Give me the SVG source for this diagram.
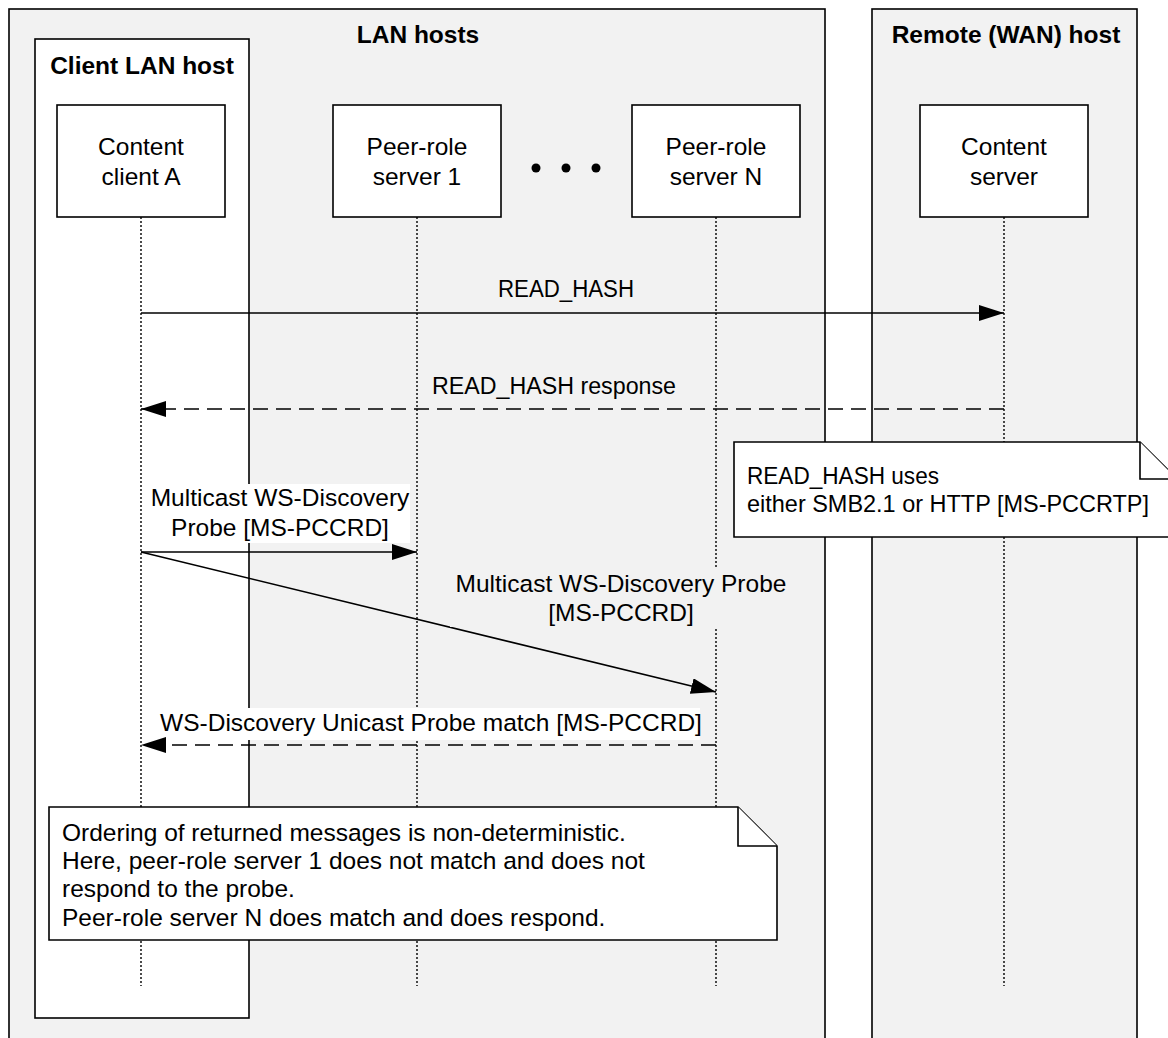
<svg xmlns="http://www.w3.org/2000/svg" width="1168" height="1038" viewBox="0 0 1168 1038">
<style>
text{font-family:"Liberation Sans",Arial,sans-serif;font-size:24.5px;fill:#000}
.t{font-weight:bold}
.c{text-anchor:middle}
.host{fill:#f2f2f2;stroke:#000;stroke-width:1.6}
.hostw{fill:#fff;stroke:#000;stroke-width:1.6}
.box{fill:#fff;stroke:#000;stroke-width:1.6}
.life{stroke:#000;stroke-width:1.4;stroke-dasharray:2,2;fill:none}
.msg{stroke:#000;stroke-width:1.6;fill:none}
.dash{stroke-dasharray:15,8}
.note{fill:#fff;stroke:#000;stroke-width:1.6;stroke-linejoin:miter}
</style>
<defs>
<marker id="ah" markerUnits="userSpaceOnUse" markerWidth="26" markerHeight="18" refX="25" refY="8" orient="auto">
<path d="M0,0 L25,8 L0,16 z" fill="#000"/>
</marker>
</defs>

<g id="lan-hosts">
<rect class="host" x="9" y="9" width="816" height="1040"/>
<text class="t c" x="418" y="43">LAN hosts</text>
</g>
<g id="remote-host">
<rect class="host" x="872" y="9" width="265" height="1040"/>
<text class="t c" x="1006" y="43">Remote (WAN) host</text>
</g>
<g id="client-lan-host">
<rect class="hostw" x="35" y="39" width="214" height="979"/>
<text class="t c" x="142" y="74">Client LAN host</text>
</g>

<g id="content-client-a">
<line class="life" x1="141" y1="217" x2="141" y2="986"/>
<rect class="box" x="57" y="105" width="168" height="112"/>
<text class="c" x="141" y="155">Content<tspan x="141" dy="30">client A</tspan></text>
</g>
<g id="peer-server-1">
<line class="life" x1="417" y1="217" x2="417" y2="986"/>
<rect class="box" x="333" y="105" width="168" height="112"/>
<text class="c" x="417" y="155">Peer-role<tspan x="417" dy="30">server 1</tspan></text>
</g>
<g id="ellipsis">
<circle cx="536" cy="168" r="4.5"/>
<circle cx="566" cy="168" r="4.5"/>
<circle cx="596" cy="168" r="4.5"/>
</g>
<g id="peer-server-n">
<line class="life" x1="716" y1="217" x2="716" y2="986"/>
<rect class="box" x="632" y="105" width="168" height="112"/>
<text class="c" x="716" y="155">Peer-role<tspan x="716" dy="30">server N</tspan></text>
</g>
<g id="content-server">
<line class="life" x1="1004" y1="217" x2="1004" y2="986"/>
<rect class="box" x="920" y="105" width="168" height="112"/>
<text class="c" x="1004" y="155">Content<tspan x="1004" dy="30">server</tspan></text>
</g>

<g id="connectors">
<line class="msg" x1="141" y1="313" x2="1004" y2="313" marker-end="url(#ah)"/>
<text class="c" x="566" y="297" textLength="136" lengthAdjust="spacingAndGlyphs">READ_HASH</text>

<line class="msg dash" x1="1004" y1="409" x2="141" y2="409" marker-end="url(#ah)"/>
<text class="c" x="554" y="394" textLength="244" lengthAdjust="spacingAndGlyphs">READ_HASH response</text>

<rect x="146" y="484" width="264" height="59" fill="#fff"/>
<line class="msg" x1="141" y1="552" x2="417" y2="552" marker-end="url(#ah)"/>
<text class="c" x="280" y="506">Multicast WS-Discovery<tspan x="280" dy="30">Probe [MS-PCCRD]</tspan></text>

<line class="msg" x1="141" y1="552" x2="716" y2="692" marker-end="url(#ah)"/>
<rect x="450" y="567" width="340" height="60" fill="#f2f2f2"/>
<text class="c" x="621" y="592">Multicast WS-Discovery Probe<tspan x="621" dy="29">[MS-PCCRD]</tspan></text>

<rect x="160" y="708" width="540" height="32" fill="#fff"/>
<line class="msg dash" x1="716" y1="745" x2="141" y2="745" marker-end="url(#ah)"/>
<text class="c" x="431" y="731">WS-Discovery Unicast Probe match [MS-PCCRD]</text>
</g>

<g id="note-read-hash">
<path class="note" d="M734,442 H1140 L1177,479 V537 H734 Z"/>
<path class="note" d="M1140,442 V479 H1177"/>
<text x="747" y="484"><tspan textLength="192" lengthAdjust="spacingAndGlyphs">READ_HASH uses</tspan><tspan x="747" dy="28" textLength="402" lengthAdjust="spacingAndGlyphs">either SMB2.1 or HTTP [MS-PCCRTP]</tspan></text>
</g>
<g id="note-ordering">
<path class="note" d="M49,807 H738 L777,846 V940 H49 Z"/>
<path class="note" d="M738,807 V846 H777"/>
<text x="62" y="841">Ordering of returned messages is non-deterministic.<tspan x="62" dy="28">Here, peer-role server 1 does not match and does not</tspan><tspan x="62" dy="28">respond to the probe.</tspan><tspan x="62" dy="29">Peer-role server N does match and does respond.</tspan></text>
</g>
</svg>
